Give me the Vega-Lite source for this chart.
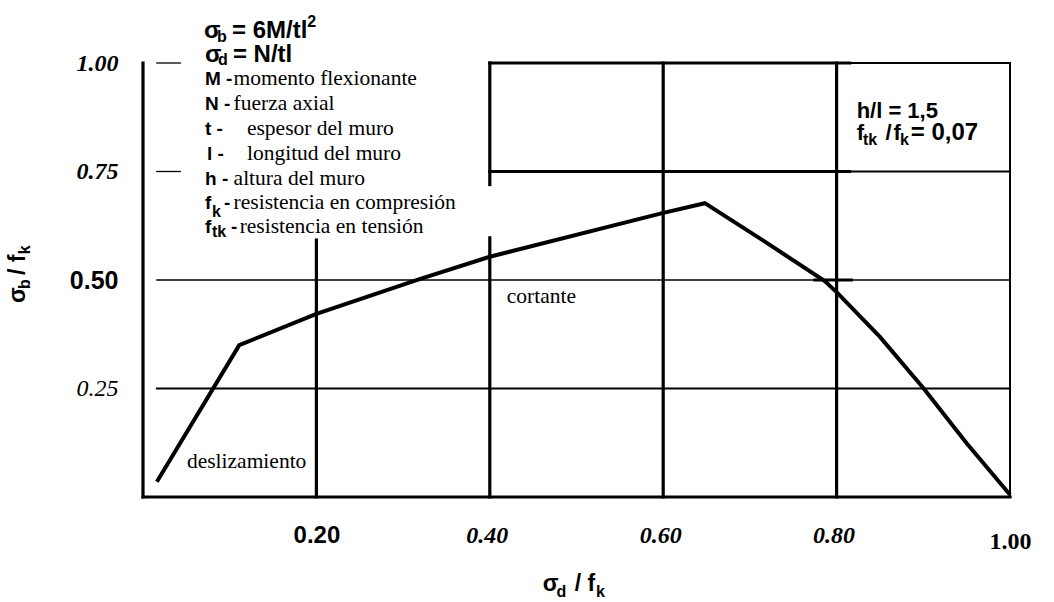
{
  "$schema": "https://vega.github.io/schema/vega-lite/v6.json",
  "width": 867,
  "height": 434,
  "autosize": {"type": "none"},
  "padding": {"left": 143, "top": 63, "right": 44, "bottom": 105},
  "background": "white",
  "config": {"view": {"stroke": null}},
  "datasets": {
    "lines": [
      {"x": 0, "x2": 0, "y": 0, "y2": 1, "kind": "heavy"},
      {"x": 0, "x2": 1, "y": 0, "y2": 0, "kind": "heavy"},
      {"x": 0.2, "x2": 0.2, "y": 0, "y2": 0.592, "kind": "heavy"},
      {"x": 0.4, "x2": 0.4, "y": 0, "y2": 0.597, "kind": "heavy"},
      {"x": 0.4, "x2": 0.4, "y": 0.72, "y2": 1, "kind": "heavy"},
      {"x": 0.6, "x2": 0.6, "y": 0, "y2": 1, "kind": "heavy"},
      {"x": 0.8, "x2": 0.8, "y": 0, "y2": 1, "kind": "heavy"},
      {"x": 0.4, "x2": 0.815, "y": 1, "y2": 1, "kind": "heavy"},
      {"x": 0.4, "x2": 0.815, "y": 0.75, "y2": 0.75, "kind": "heavy"},
      {"x": 0.775, "x2": 0.817, "y": 0.5, "y2": 0.5, "kind": "heavy"},
      {"x": 1, "x2": 1, "y": 0, "y2": 1, "kind": "light"},
      {"x": 0.8, "x2": 1, "y": 1, "y2": 1, "kind": "light"},
      {"x": 0.8, "x2": 1, "y": 0.75, "y2": 0.75, "kind": "light"},
      {"x": 0.016, "x2": 1, "y": 0.25, "y2": 0.25, "kind": "light"},
      {"x": 0.016, "x2": 1, "y": 0.5, "y2": 0.5, "kind": "hair"},
      {"x": 0.016, "x2": 0.043, "y": 1, "y2": 1, "kind": "hair"},
      {"x": 0.016, "x2": 0.043, "y": 0.75, "y2": 0.75, "kind": "hair"}
    ],
    "curve": [
      {"x": 0.016, "y": 0.035},
      {"x": 0.111, "y": 0.35},
      {"x": 0.2, "y": 0.422},
      {"x": 0.319, "y": 0.502},
      {"x": 0.399, "y": 0.553},
      {"x": 0.599, "y": 0.654},
      {"x": 0.648, "y": 0.677},
      {"x": 0.716, "y": 0.59},
      {"x": 0.786, "y": 0.498},
      {"x": 0.8, "y": 0.472},
      {"x": 0.85, "y": 0.369},
      {"x": 0.9, "y": 0.251},
      {"x": 0.95, "y": 0.124},
      {"x": 1.0, "y": 0.005}
    ],
    "texts": [
      {"x": 0.0703, "y": 1.0576, "text": "σ", "kind": "big"},
      {"x": 0.0853, "y": 1.0484, "text": "b", "kind": "sub16"},
      {"x": 0.1026, "y": 1.0576, "text": "= 6M/tl", "kind": "big"},
      {"x": 0.1895, "y": 1.0829, "text": "2", "kind": "sub16"},
      {"x": 0.0715, "y": 1.0023, "text": "σ", "kind": "big"},
      {"x": 0.0865, "y": 0.9954, "text": "d", "kind": "sub16"},
      {"x": 0.1037, "y": 1.0023, "text": "= N/tl", "kind": "big"},
      {"x": 0.0715, "y": 0.9493, "text": "M -", "kind": "key"},
      {"x": 0.0715, "y": 0.8917, "text": "N -", "kind": "key"},
      {"x": 0.0715, "y": 0.8341, "text": "t -", "kind": "key"},
      {"x": 0.0738, "y": 0.7765, "text": "l -", "kind": "key"},
      {"x": 0.0715, "y": 0.7189, "text": "h -", "kind": "key"},
      {"x": 0.0715, "y": 0.6636, "text": "f", "kind": "key"},
      {"x": 0.0795, "y": 0.6452, "text": "k", "kind": "sub16"},
      {"x": 0.0935, "y": 0.6636, "text": "-", "kind": "key"},
      {"x": 0.0715, "y": 0.6083, "text": "f", "kind": "key"},
      {"x": 0.0795, "y": 0.5991, "text": "tk", "kind": "sub16"},
      {"x": 0.1015, "y": 0.6083, "text": "-", "kind": "key"},
      {"x": 0.1045, "y": 0.9493, "text": "momento flexionante", "kind": "desc"},
      {"x": 0.1045, "y": 0.8917, "text": "fuerza axial", "kind": "desc"},
      {"x": 0.1199, "y": 0.8341, "text": "espesor del muro", "kind": "desc"},
      {"x": 0.1199, "y": 0.7765, "text": "longitud del muro", "kind": "desc"},
      {"x": 0.1045, "y": 0.7189, "text": "altura del muro", "kind": "desc"},
      {"x": 0.1045, "y": 0.6636, "text": "resistencia en compresión", "kind": "desc"},
      {"x": 0.1115, "y": 0.6083, "text": "resistencia en tensión", "kind": "desc"},
      {"x": 0.0507, "y": 0.0668, "text": "deslizamiento", "kind": "desc"},
      {"x": 0.4196, "y": 0.447, "text": "cortante", "kind": "desc"},
      {"x": 0.8231, "y": 0.8733, "text": "h/l = 1,5", "kind": "box"},
      {"x": 0.8231, "y": 0.8226, "text": "f", "kind": "box"},
      {"x": 0.8305, "y": 0.811, "text": "tk", "kind": "sub16"},
      {"x": 0.8563, "y": 0.8226, "text": "/", "kind": "box"},
      {"x": 0.8655, "y": 0.8226, "text": "f", "kind": "box"},
      {"x": 0.873, "y": 0.811, "text": "k", "kind": "sub16"},
      {"x": 0.8855, "y": 0.8226, "text": "= 0,07", "kind": "big"},
      {"x": 0.4611, "y": -0.2166, "text": "σ", "kind": "title"},
      {"x": 0.4768, "y": -0.2304, "text": "d", "kind": "sub16"},
      {"x": 0.498, "y": -0.2166, "text": "/ f", "kind": "title"},
      {"x": 0.5225, "y": -0.2304, "text": "k", "kind": "sub16"},
      {"x": -0.136, "y": 0.447, "text": "σ", "kind": "ytitle"},
      {"x": -0.1303, "y": 0.479, "text": "b", "kind": "ytitlesub"},
      {"x": -0.136, "y": 0.5115, "text": "/ f", "kind": "ytitle"},
      {"x": -0.1303, "y": 0.5595, "text": "k", "kind": "ytitlesub"}
    ]
  },
  "layer": [
    {
      "data": {"name": "lines"},
      "mark": {"type": "rule", "color": "black", "strokeCap": "square"},
      "encoding": {
        "x": {
          "field": "x", "type": "quantitative",
          "scale": {"domain": [0, 1], "nice": false, "zero": false},
          "axis": {
            "values": [0.2, 0.4, 0.6, 0.8, 1],
            "format": ".2f",
            "title": null,
            "ticks": false,
            "domain": false,
            "grid": false,
            "labelFlush": false,
            "labelOverlap": false,
            "labelBound": false,
            "labelColor": "black",
            "labelAlign": "center",
            "labelBaseline": "top",
            "labelFontWeight": "bold",
            "labelFontSize": 24,
            "labelFont": {"condition": {"test": "datum.value == 0.2", "value": "Liberation Sans"}, "value": "Liberation Serif"},
            "labelFontStyle": {"condition": {"test": "datum.value == 0.2 || datum.value == 1", "value": "normal"}, "value": "italic"},
            "labelOffset": {"condition": {"test": "datum.value == 0.4 || datum.value == 0.6 || datum.value == 0.8", "value": -3}, "value": 0},
            "labelPadding": {"condition": {"test": "datum.value == 1", "value": 32}, "value": 26}
          }
        },
        "x2": {"field": "x2"},
        "y": {
          "field": "y", "type": "quantitative",
          "scale": {"domain": [0, 1], "nice": false, "zero": false},
          "axis": {
            "values": [0.25, 0.5, 0.75, 1],
            "format": ".2f",
            "title": null,
            "ticks": false,
            "domain": false,
            "grid": false,
            "labelFlush": false,
            "labelOverlap": false,
            "labelBound": false,
            "labelColor": "black",
            "labelAlign": "right",
            "labelBaseline": "middle",
            "labelPadding": 25,
            "labelFontSize": {"condition": {"test": "datum.value == 0.5", "value": 25}, "value": 24},
            "labelFont": {"condition": {"test": "datum.value == 0.5", "value": "Liberation Sans"}, "value": "Liberation Serif"},
            "labelFontStyle": {"condition": {"test": "datum.value == 0.5", "value": "normal"}, "value": "italic"},
            "labelFontWeight": {"condition": {"test": "datum.value == 0.25", "value": "normal"}, "value": "bold"}
          }
        },
        "y2": {"field": "y2"},
        "strokeWidth": {
          "field": "kind", "type": "nominal",
          "scale": {"type": "ordinal", "domain": ["heavy", "light", "hair"], "range": [3.2, 2, 1.3]},
          "legend": null
        }
      }
    },
    {
      "data": {"name": "curve"},
      "mark": {"type": "line", "color": "black", "strokeWidth": 4},
      "encoding": {
        "x": {"field": "x", "type": "quantitative"},
        "y": {"field": "y", "type": "quantitative"}
      }
    },
    {
      "data": {"name": "texts"},
      "transform": [{"filter": "datum.kind == 'desc'"}],
      "mark": {"type": "text", "font": "Liberation Serif", "fontSize": 21.5, "align": "left", "baseline": "alphabetic", "color": "black"},
      "encoding": {
        "x": {"field": "x", "type": "quantitative"},
        "y": {"field": "y", "type": "quantitative"},
        "text": {"field": "text"}
      }
    },
    {
      "data": {"name": "texts"},
      "transform": [{"filter": "datum.kind == 'big'"}],
      "mark": {"type": "text", "font": "Liberation Sans", "fontWeight": "bold", "fontSize": 24, "align": "left", "baseline": "alphabetic", "color": "black"},
      "encoding": {
        "x": {"field": "x", "type": "quantitative"},
        "y": {"field": "y", "type": "quantitative"},
        "text": {"field": "text"}
      }
    },
    {
      "data": {"name": "texts"},
      "transform": [{"filter": "datum.kind == 'title'"}],
      "mark": {"type": "text", "font": "Liberation Sans", "fontWeight": "bold", "fontSize": 23, "align": "left", "baseline": "alphabetic", "color": "black"},
      "encoding": {
        "x": {"field": "x", "type": "quantitative"},
        "y": {"field": "y", "type": "quantitative"},
        "text": {"field": "text"}
      }
    },
    {
      "data": {"name": "texts"},
      "transform": [{"filter": "datum.kind == 'box'"}],
      "mark": {"type": "text", "font": "Liberation Sans", "fontWeight": "bold", "fontSize": 22, "align": "left", "baseline": "alphabetic", "color": "black"},
      "encoding": {
        "x": {"field": "x", "type": "quantitative"},
        "y": {"field": "y", "type": "quantitative"},
        "text": {"field": "text"}
      }
    },
    {
      "data": {"name": "texts"},
      "transform": [{"filter": "datum.kind == 'key'"}],
      "mark": {"type": "text", "font": "Liberation Sans", "fontWeight": "bold", "fontSize": 19, "align": "left", "baseline": "alphabetic", "color": "black"},
      "encoding": {
        "x": {"field": "x", "type": "quantitative"},
        "y": {"field": "y", "type": "quantitative"},
        "text": {"field": "text"}
      }
    },
    {
      "data": {"name": "texts"},
      "transform": [{"filter": "datum.kind == 'sub16'"}],
      "mark": {"type": "text", "font": "Liberation Sans", "fontWeight": "bold", "fontSize": 16, "align": "left", "baseline": "alphabetic", "color": "black"},
      "encoding": {
        "x": {"field": "x", "type": "quantitative"},
        "y": {"field": "y", "type": "quantitative"},
        "text": {"field": "text"}
      }
    },
    {
      "data": {"name": "texts"},
      "transform": [{"filter": "datum.kind == 'ytitle'"}],
      "mark": {"type": "text", "font": "Liberation Sans", "fontWeight": "bold", "fontSize": 23, "align": "left", "baseline": "alphabetic", "color": "black", "angle": 270},
      "encoding": {
        "x": {"field": "x", "type": "quantitative"},
        "y": {"field": "y", "type": "quantitative"},
        "text": {"field": "text"}
      }
    },
    {
      "data": {"name": "texts"},
      "transform": [{"filter": "datum.kind == 'ytitlesub'"}],
      "mark": {"type": "text", "font": "Liberation Sans", "fontWeight": "bold", "fontSize": 16, "align": "left", "baseline": "alphabetic", "color": "black", "angle": 270},
      "encoding": {
        "x": {"field": "x", "type": "quantitative"},
        "y": {"field": "y", "type": "quantitative"},
        "text": {"field": "text"}
      }
    }
  ]
}
